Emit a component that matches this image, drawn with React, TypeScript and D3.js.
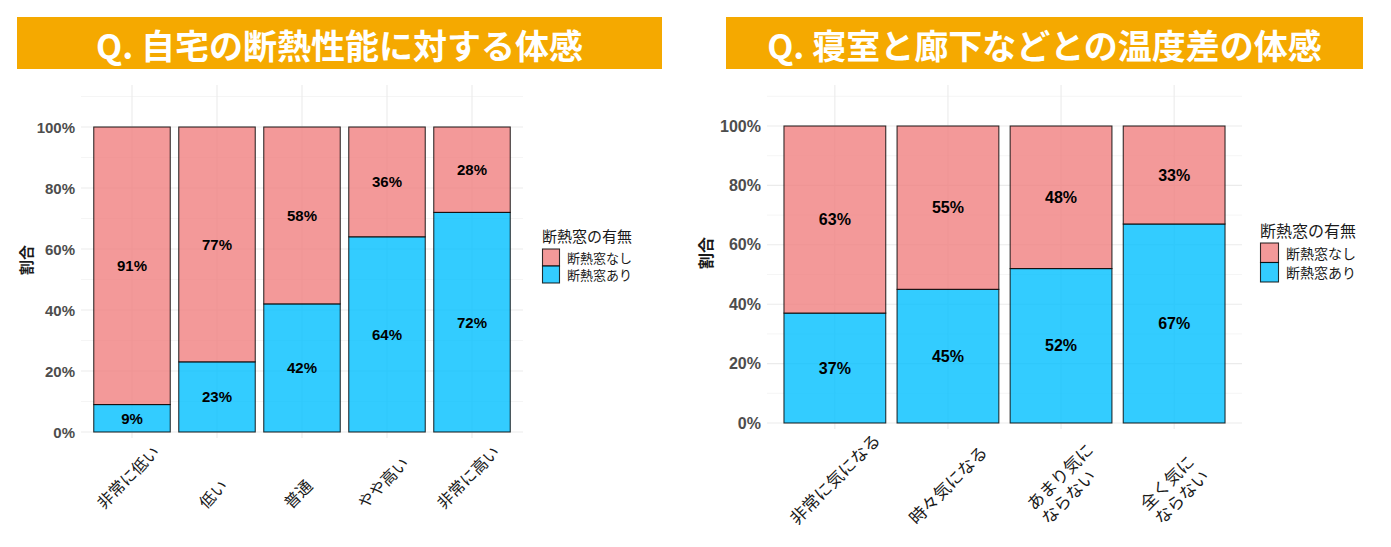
import React, { useEffect } from 'react';
import * as d3 from 'd3';

// ---------- data ----------
const leftTitle = 'Q. 自宅の断熱性能に対する体感';
const leftCategories = ['非常に低い', '低い', '普通', 'やや高い', '非常に高い'];
const leftWith = [9, 23, 42, 64, 72];
const leftWithout = [91, 77, 58, 36, 28];

const rightTitle = 'Q. 寝室と廊下などとの温度差の体感';
const rightCategories = ['非常に気になる', '時々気になる', 'あまり気に\nならない', '全く気に\nならない'];
const rightWith = [37, 45, 52, 67];
const rightWithout = [63, 55, 48, 33];

const yTicks = [0, 20, 40, 60, 80, 100];
const yMinorTicks = [10, 30, 50, 70, 90, 110];
const legendTitle = '断熱窓の有無';
const seriesNames = ['断熱窓なし', '断熱窓あり'];
const yAxisTitle = '割合';

// ---------- style ----------
const COLORS = { without: '#F08080', with: '#00BFFF' };
const BANNER = '#F5A900';
const CJK = '"Noto Sans CJK JP", "Noto Sans", sans-serif';
const NUM = '"Liberation Sans", Arial, "Noto Sans CJK JP", sans-serif';

type PanelCfg = {
  title: string;
  categories: string[];
  withVals: number[];
  withoutVals: number[];
  banner: [number, number, number, number];
  x0: number; x1: number; yZero: number; yHundred: number; top: number; bottom: number;
  tickX: number; axisTitleX: number; axisTitleY: number;
  legendX: number; legendTitleY: number; keyY: number; keyW: number; keyH: number; legendLabelX: number;
  labelBottom: number; labelDx: number;
  fs: { tick: number; xlab: number; bar: number; legTitle: number; legLabel: number; axisTitle: number };
};

const panels: PanelCfg[] = [
  {
    title: leftTitle, categories: leftCategories, withVals: leftWith, withoutVals: leftWithout,
    banner: [17, 17, 662, 69],
    x0: 81, x1: 523, yZero: 432, yHundred: 127, top: 85, bottom: 438,
    tickX: 75, axisTitleX: 25, axisTitleY: 260,
    legendX: 542, legendTitleY: 235, keyY: 249, keyW: 17, keyH: 17, legendLabelX: 567,
    labelBottom: 511, labelDx: -4,
    fs: { tick: 15, xlab: 16, bar: 15, legTitle: 15, legLabel: 13, axisTitle: 15 },
  },
  {
    title: rightTitle, categories: rightCategories, withVals: rightWith, withoutVals: rightWithout,
    banner: [726, 17, 1363, 69],
    x0: 767, x1: 1242, yZero: 423, yHundred: 126, top: 85, bottom: 429,
    tickX: 761, axisTitleX: 705, axisTitleY: 253,
    legendX: 1260, legendTitleY: 230, keyY: 243, keyW: 18, keyH: 19.5, legendLabelX: 1286,
    labelBottom: 527, labelDx: 0,
    fs: { tick: 16, xlab: 17, bar: 16, legTitle: 16, legLabel: 14, axisTitle: 16 },
  },
];

let ctx: CanvasRenderingContext2D | null = null;
function measure(text: string, font: string): number {
  if (!ctx) ctx = document.createElement('canvas').getContext('2d');
  if (!ctx) return text.length * 16;
  ctx.font = font;
  return ctx.measureText(text).width;
}

function xLabelLines(label: string, cx: number, bottom: number, f: number) {
  const lines = label.split('\n');
  const c = Math.SQRT1_2;
  const u = [c, -c];
  const n = [c, c];
  const lh = f * 1.2;
  const a = f * 0.88;
  const d = f * 0.12;
  const widths = lines.map((l) => measure(l, `${f}px ${CJK}`));
  let minX = Infinity, maxX = -Infinity, maxY = -Infinity;
  lines.forEach((_, i) => {
    const bx = i * lh * n[0];
    const by = i * lh * n[1];
    [0, widths[i]].forEach((w) => {
      [-a, d].forEach((p) => {
        const x = bx + w * u[0] + p * n[0];
        const y = by + w * u[1] + p * n[1];
        minX = Math.min(minX, x); maxX = Math.max(maxX, x); maxY = Math.max(maxY, y);
      });
    });
  });
  const sx = cx - (minX + maxX) / 2;
  const sy = bottom - maxY;
  return lines.map((l, i) => ({ text: l, x: sx + i * lh * n[0], y: sy + i * lh * n[1] }));
}

function Panel({ p }: { p: PanelCfg }) {
  const x = d3.scaleBand<string>().domain(p.categories).range([p.x0, p.x1]).paddingInner(0.1).paddingOuter(0.15);
  const y = d3.scaleLinear().domain([0, 100]).range([p.yZero, p.yHundred]);
  const [bx0, by0, bx1, by1] = p.banner;
  const series = [
    { key: 'without', name: seriesNames[0], color: COLORS.without },
    { key: 'with', name: seriesNames[1], color: COLORS.with },
  ];
  const stackData = p.categories.map((c, i) => ({ cat: c, with: p.withVals[i], without: p.withoutVals[i] }));
  const stacked = d3.stack<any>().keys(['with', 'without'])(stackData);

  return (
    <g>
      {/* banner */}
      <rect x={bx0} y={by0} width={bx1 - bx0} height={by1 - by0} fill={BANNER} />
      <text x={(bx0 + bx1) / 2} y={(by0 + by1) / 2 + 1} textAnchor="middle" dominantBaseline="central"
        fill="#fff" fontSize={34} fontWeight={700} fontFamily={CJK}>{p.title}</text>

      {/* grid */}
      {yMinorTicks.filter((t) => y(t) >= p.top).map((t) => (
        <line key={'mn' + t} x1={p.x0} x2={p.x1} y1={y(t)} y2={y(t)} stroke="#F3F3F3" strokeWidth={0.8} />
      ))}
      {yTicks.map((t) => (
        <line key={'mj' + t} x1={p.x0} x2={p.x1} y1={y(t)} y2={y(t)} stroke="#EBEBEB" strokeWidth={1.1} />
      ))}
      {p.categories.map((c) => (
        <line key={'v' + c} x1={x(c)! + x.bandwidth() / 2} x2={x(c)! + x.bandwidth() / 2} y1={p.top} y2={p.bottom}
          stroke="#EBEBEB" strokeWidth={1.1} />
      ))}

      {/* y tick labels */}
      {yTicks.map((t) => (
        <text key={'yt' + t} x={p.tickX} y={y(t)} textAnchor="end" dominantBaseline="central"
          fontSize={p.fs.tick} fontWeight={700} fill="#4D4D4D" fontFamily={NUM}>{t}%</text>
      ))}
      <text transform={`translate(${p.axisTitleX},${p.axisTitleY}) rotate(-90)`} textAnchor="middle"
        dominantBaseline="central" fontSize={p.fs.axisTitle} fontWeight={700} fill="#1A1A1A" fontFamily={CJK}>{yAxisTitle}</text>

      {/* bars */}
      {stacked.map((s) => {
        const color = s.key === 'with' ? COLORS.with : COLORS.without;
        return s.map((d: any) => (
          <rect key={s.key + d.data.cat} x={x(d.data.cat)} y={y(d[1])} width={x.bandwidth()} height={y(d[0]) - y(d[1])}
            fill={color} fillOpacity={0.8} stroke="#000" strokeOpacity={0.8} strokeWidth={1.1} />
        ));
      })}
      {stacked.map((s) => s.map((d: any) => (
        <text key={'bl' + s.key + d.data.cat} x={x(d.data.cat)! + x.bandwidth() / 2} y={y((d[0] + d[1]) / 2)}
          textAnchor="middle" dominantBaseline="central" fontSize={p.fs.bar} fontWeight={700} fill="#000"
          fontFamily={NUM}>{Math.round(d[1] - d[0])}%</text>
      )))}

      {/* x labels */}
      {p.categories.map((c) => {
        const lines = xLabelLines(c, x(c)! + x.bandwidth() / 2 + p.labelDx, p.labelBottom, p.fs.xlab);
        return lines.map((ln, i) => (
          <text key={'xl' + c + i} transform={`translate(${ln.x},${ln.y}) rotate(-45)`} fontSize={p.fs.xlab}
            fill="#1A1A1A" fontFamily={CJK}>{ln.text}</text>
        ));
      })}

      {/* legend */}
      <text x={p.legendX} y={p.legendTitleY} dominantBaseline="central" fontSize={p.fs.legTitle} fill="#1A1A1A"
        fontFamily={CJK}>{legendTitle}</text>
      {series.map((s, i) => (
        <g key={'lg' + s.key}>
          <rect x={p.legendX + 0.5} y={p.keyY + i * p.keyH} width={p.keyW} height={p.keyH} fill={s.color}
            fillOpacity={0.8} stroke="#000" strokeOpacity={0.8} strokeWidth={1.1} />
          <text x={p.legendLabelX} y={p.keyY + i * p.keyH + p.keyH / 2} dominantBaseline="central"
            fontSize={p.fs.legLabel} fill="#1A1A1A" fontFamily={CJK}>{s.name}</text>
        </g>
      ))}
    </g>
  );
}

export default function App() {
  useEffect(() => {
    document.body.style.margin = '0';
  }, []);
  return (
    <svg width={1391} height={547} style={{ position: 'fixed', left: 0, top: 0, background: '#fff' }}>
      <rect x={0} y={0} width={1391} height={547} fill="#fff" />
      {panels.map((p, i) => <Panel key={i} p={p} />)}
    </svg>
  );
}
